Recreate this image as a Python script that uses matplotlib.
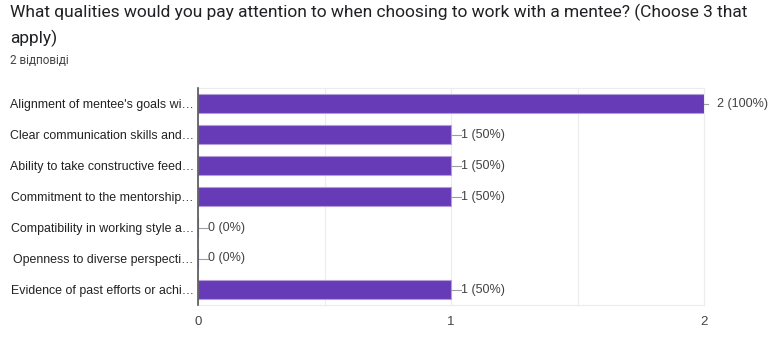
import matplotlib.pyplot as plt
import numpy as np

plt.rcParams["font.family"] = ["Roboto", "DejaVu Sans"]

title = "What qualities would you pay attention to when choosing to work with a mentee? (Choose 3 that\napply)"
subtitle = "2 відповіді"

categories = [
    "Alignment of mentee's goals wi…",
    "Clear communication skills and…",
    "Ability to take constructive feed…",
    "Commitment to the mentorship…",
    "Compatibility in working style a…",
    "Openness to diverse perspecti…",
    "Evidence of past efforts or achi…",
]
counts = [2, 1, 1, 1, 0, 0, 1]
percents = [100, 50, 50, 50, 0, 0, 50]
x_ticks = [0, 1, 2]

label_font = ["Liberation Sans", "DejaVu Sans"]

fig = plt.figure(figsize=(7.79, 3.39), dpi=100)
ax = fig.add_axes([198 / 779, 1 - 305 / 339, (704 - 198) / 779, (305 - 88) / 339])

y = np.arange(len(categories))
ax.barh(y, counts, height=0.62, color="#673ab7", edgecolor="#b39ddb",
        linewidth=0.8, zorder=3)

# value labels with a short leader line
for yi, c, p in zip(y, counts, percents):
    if c == max(counts):
        ax.plot([c, c + 0.015], [yi, yi], color="#9e9e9e", lw=0.8, clip_on=False, zorder=4)
        ax.text(c + 0.05, yi, f"{c} ({p}%)", va="center", ha="left",
                fontsize=9, color="#424242", family=label_font)
    else:
        ax.plot([c, c + 0.04], [yi, yi], color="#9e9e9e", lw=0.8, clip_on=False, zorder=4)
        ax.text(c + 0.04, yi, f"{c} ({p}%)", va="center", ha="left",
                fontsize=9, color="#424242", family=label_font)

ax.set_ylim(len(categories) - 0.5, -0.5)
ax.set_xlim(0, 2)
ax.set_yticks(y)
ax.set_yticklabels(categories, fontsize=8.9, color="#222222", family=label_font)
ax.set_xticks(x_ticks)
ax.set_xticklabels([str(t) for t in x_ticks], fontsize=9.5, color="#444444",
                   family=label_font)
ax.set_xticks([0.5, 1.5], minor=True)
ax.tick_params(axis="both", which="both", length=0)
ax.tick_params(axis="x", pad=8)
ax.tick_params(axis="y", pad=3)

ax.grid(axis="x", which="both", color="#ececec", lw=0.8, zorder=0)
for side in ["top", "right", "bottom"]:
    ax.spines[side].set_color("#ececec")
    ax.spines[side].set_linewidth(0.8)
ax.spines["left"].set_color("#555555")
ax.spines["left"].set_linewidth(1.2)
ax.spines["left"].set_zorder(5)

fig.text(10 / 779, 1 - 4 / 339, title, ha="left", va="top", fontsize=12.5,
         color="#202124", linespacing=1.6)
fig.text(10 / 779, 1 - 60 / 339, subtitle, ha="left", va="center", fontsize=8.5,
         color="#444444")

fig.savefig("out.png", dpi=100)
